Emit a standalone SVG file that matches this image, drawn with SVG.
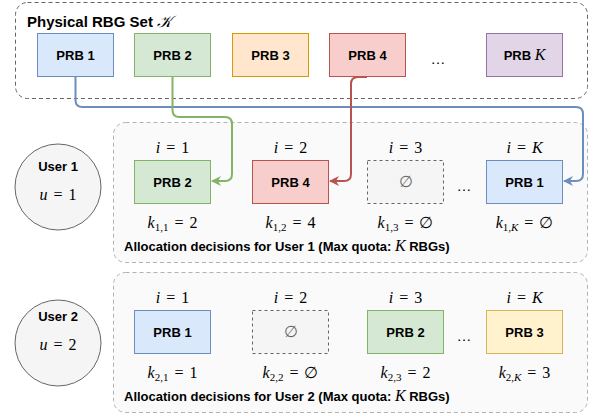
<svg xmlns="http://www.w3.org/2000/svg" width="598" height="420" viewBox="0 0 598 420">
<style>
.t{font-family:"Liberation Sans",Arial,sans-serif;font-weight:bold;font-size:13px;fill:#000;text-anchor:middle}
.m{font-family:"Liberation Serif","DejaVu Serif",serif;font-size:16px;fill:#000;text-anchor:middle;word-spacing:2px}
.i{font-style:italic}
.sub{font-size:11px;word-spacing:0}
.blue{fill:#dae8fc;stroke:#6c8ebf}
.green{fill:#d5e8d4;stroke:#82b366}
.orange{fill:#ffe6cc;stroke:#d79b00}
.red{fill:#f8cecc;stroke:#b85450}
.purple{fill:#e1d5e7;stroke:#9673a6}
.yellow{fill:#fff2cc;stroke:#d6b656}
.empty{fill:#f5f5f5;stroke:#666;stroke-dasharray:3 3}
.cont{fill:#fafafa;stroke:#b3b3b3;stroke-dasharray:4 3}
.user{fill:#f5f5f5;stroke:#666}
.edge{fill:none;stroke-width:2}
.cap{font-family:"Liberation Sans",Arial,sans-serif;font-weight:bold;font-size:13px}
.kk{font-family:"Liberation Serif",serif;font-style:italic;font-weight:normal;font-size:16px}
</style>
<defs>
<marker id="ab" viewBox="0 0 10 10" refX="9" refY="5" markerWidth="5" markerHeight="5" orient="auto"><path d="M0,0 L10,5 L0,10 L3,5 Z" fill="#6c8ebf"/></marker>
<marker id="ag" viewBox="0 0 10 10" refX="9" refY="5" markerWidth="5" markerHeight="5" orient="auto"><path d="M0,0 L10,5 L0,10 L3,5 Z" fill="#82b366"/></marker>
<marker id="ar" viewBox="0 0 10 10" refX="9" refY="5" markerWidth="5" markerHeight="5" orient="auto"><path d="M0,0 L10,5 L0,10 L3,5 Z" fill="#b85450"/></marker>
</defs>

<g id="physical-set">
<rect x="15.5" y="2.5" width="572" height="96" rx="12" fill="none" stroke="#666" stroke-dasharray="4 3"/>
<text x="27" y="27" style="font-family:'Liberation Sans',Arial,sans-serif;font-weight:bold;font-size:15px">Physical RBG Set <tspan style="font-family:'DejaVu Serif','Liberation Serif',serif;font-style:italic;font-weight:normal;font-size:16px">𝒦</tspan></text>
</g>
<g id="prb1"><rect class="blue" x="37.5" y="33.5" width="76" height="43"/><text class="t" x="75.5" y="59.5">PRB 1</text></g>
<g id="prb2"><rect class="green" x="134.5" y="33.5" width="76" height="43"/><text class="t" x="172.5" y="59.5">PRB 2</text></g>
<g id="prb3"><rect class="orange" x="232.5" y="33.5" width="76" height="43"/><text class="t" x="270.5" y="59.5">PRB 3</text></g>
<g id="prb4"><rect class="red" x="329.5" y="33.5" width="76" height="43"/><text class="t" x="367.5" y="59.5">PRB 4</text></g>
<g id="dots-top"><text class="t" x="438" y="64" style="font-weight:normal;font-size:15px">…</text></g>
<g id="prbK"><rect class="purple" x="486.5" y="33.5" width="76" height="43"/><text class="t" x="524.5" y="59.5">PRB <tspan class="kk">K</tspan></text></g>

<g id="user1-container"><rect class="cont" x="113.5" y="122.5" width="474" height="140" rx="12"/>
<text class="cap" x="124" y="251">Allocation decisions for User 1 (Max quota: <tspan class="kk">K</tspan> RBGs)</text></g>
<g id="user1"><circle class="user" cx="58" cy="187" r="43"/><text class="t" x="58" y="171">User 1</text><text class="m" x="58" y="200"><tspan class="i">u</tspan> = 1</text></g>

<g id="u1-slot1"><rect class="green" x="134.5" y="160.5" width="76" height="43"/><text class="t" x="172.5" y="186.5">PRB 2</text>
<text class="m" x="172.5" y="153"><tspan class="i">i</tspan> = 1</text>
<text class="m" x="172.5" y="228"><tspan class="i">k</tspan><tspan class="sub" dy="3">1,1</tspan><tspan dy="-3"> = 2</tspan></text></g>
<g id="u1-slot2"><rect class="red" x="252.5" y="160.5" width="76" height="43"/><text class="t" x="290.5" y="186.5">PRB 4</text>
<text class="m" x="290.5" y="153"><tspan class="i">i</tspan> = 2</text>
<text class="m" x="290.5" y="228"><tspan class="i">k</tspan><tspan class="sub" dy="3">1,2</tspan><tspan dy="-3"> = 4</tspan></text></g>
<g id="u1-slot3"><rect class="empty" x="367.5" y="160.5" width="76" height="43"/><text class="m" x="405.5" y="187" style="fill:#666">∅</text>
<text class="m" x="405.5" y="153"><tspan class="i">i</tspan> = 3</text>
<text class="m" x="405.5" y="228"><tspan class="i">k</tspan><tspan class="sub" dy="3">1,3</tspan><tspan dy="-3"> = ∅</tspan></text></g>
<g id="u1-dots"><text class="t" x="464" y="191" style="font-weight:normal;font-size:15px">…</text></g>
<g id="u1-slotK"><rect class="blue" x="486.5" y="160.5" width="76" height="43"/><text class="t" x="524.5" y="186.5">PRB 1</text>
<text class="m" x="524.5" y="153"><tspan class="i">i</tspan> = <tspan class="i">K</tspan></text>
<text class="m" x="524.5" y="228"><tspan class="i">k</tspan><tspan class="sub" dy="3">1,<tspan class="i">K</tspan></tspan><tspan dy="-3"> = ∅</tspan></text></g>

<g id="user2-container"><rect class="cont" x="113.5" y="272.5" width="474" height="140" rx="12"/>
<text class="cap" x="124" y="401">Allocation decisions for User 2 (Max quota: <tspan class="kk">K</tspan> RBGs)</text></g>
<g id="user2"><circle class="user" cx="58" cy="343" r="43"/><text class="t" x="58" y="321">User 2</text><text class="m" x="58" y="350"><tspan class="i">u</tspan> = 2</text></g>

<g id="u2-slot1"><rect class="blue" x="134.5" y="310.5" width="76" height="43"/><text class="t" x="172.5" y="336.5">PRB 1</text>
<text class="m" x="172.5" y="303"><tspan class="i">i</tspan> = 1</text>
<text class="m" x="172.5" y="378"><tspan class="i">k</tspan><tspan class="sub" dy="3">2,1</tspan><tspan dy="-3"> = 1</tspan></text></g>
<g id="u2-slot2"><rect class="empty" x="252.5" y="310.5" width="76" height="43"/><text class="m" x="290.5" y="337" style="fill:#666">∅</text>
<text class="m" x="290.5" y="303"><tspan class="i">i</tspan> = 2</text>
<text class="m" x="290.5" y="378"><tspan class="i">k</tspan><tspan class="sub" dy="3">2,2</tspan><tspan dy="-3"> = ∅</tspan></text></g>
<g id="u2-slot3"><rect class="green" x="367.5" y="310.5" width="76" height="43"/><text class="t" x="405.5" y="336.5">PRB 2</text>
<text class="m" x="405.5" y="303"><tspan class="i">i</tspan> = 3</text>
<text class="m" x="405.5" y="378"><tspan class="i">k</tspan><tspan class="sub" dy="3">2,3</tspan><tspan dy="-3"> = 2</tspan></text></g>
<g id="u2-dots"><text class="t" x="464" y="341" style="font-weight:normal;font-size:15px">…</text></g>
<g id="u2-slotK"><rect class="yellow" x="486.5" y="310.5" width="76" height="43"/><text class="t" x="524.5" y="336.5">PRB 3</text>
<text class="m" x="524.5" y="303"><tspan class="i">i</tspan> = <tspan class="i">K</tspan></text>
<text class="m" x="524.5" y="378"><tspan class="i">k</tspan><tspan class="sub" dy="3">2,<tspan class="i">K</tspan></tspan><tspan dy="-3"> = 3</tspan></text></g>

<g id="connectors">
<path class="edge" stroke="#6c8ebf" marker-end="url(#ab)" d="M75.5,76.5 L75.5,100 Q75.5,107 82.5,107 L576,107 Q583,107 583,114 L583,174 Q583,181 576,181 L564,181"/>
<path class="edge" stroke="#82b366" marker-end="url(#ag)" d="M172.5,76.5 L172.5,110 Q172.5,117 179.5,117 L225,117 Q232,117 232,124 L232,174 Q232,181 225,181 L212,181"/>
<path class="edge" stroke="#b85450" marker-end="url(#ar)" d="M367,77 L358,77 Q351,77 351,84 L351,174 Q351,181 344,181 L330,181"/>
</g>
</svg>
